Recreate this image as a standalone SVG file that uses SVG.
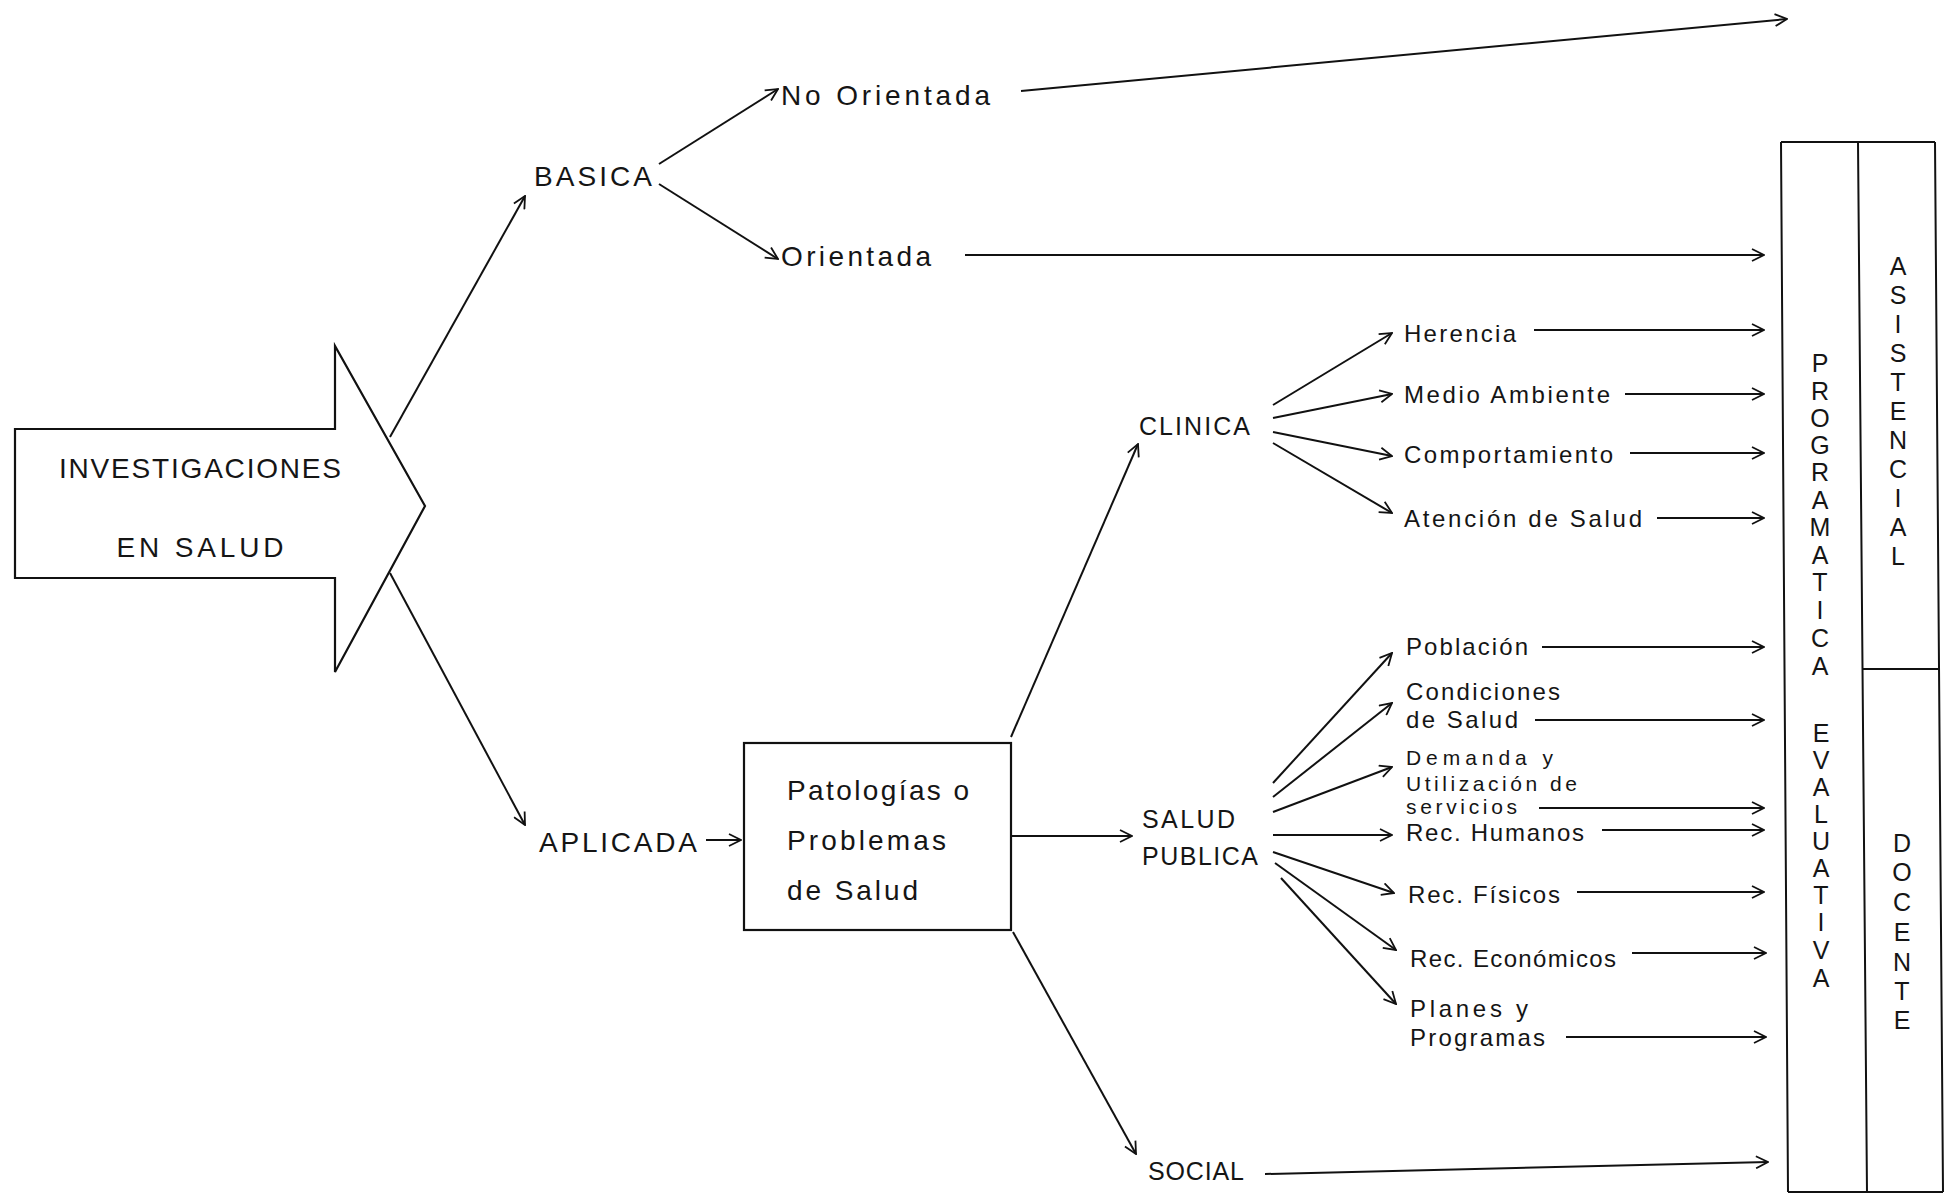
<svg xmlns="http://www.w3.org/2000/svg" width="1960" height="1195" viewBox="0 0 1960 1195">
<defs>
<marker id="ah" viewBox="0 0 14 14" refX="13" refY="7" markerWidth="14" markerHeight="14" markerUnits="userSpaceOnUse" orient="auto">
<path d="M1,1 L13,7 L1,13" fill="none" stroke="#111" stroke-width="1.8"/>
</marker>
<style>
text{font-family:"Liberation Sans",Arial,sans-serif;fill:#151515}
.l{font-size:28px}
.m{font-size:25px}
.s{font-size:24px}
.xs{font-size:21px}
.v{font-size:25px;text-anchor:middle}
.ln{stroke:#111;stroke-width:2;fill:none}
.ar{stroke:#111;stroke-width:2;fill:none;marker-end:url(#ah)}
</style>
</defs>
<rect width="1960" height="1195" fill="#fff"/>

<g id="investigaciones">
<polygon points="15,429 335,429 335,346 425,506 335,672 335,578 15,578" fill="none" stroke="#111" stroke-width="2.2"/>
<text class="l" x="200" y="478" text-anchor="middle" textLength="282" lengthAdjust="spacing">INVESTIGACIONES</text>
<text class="l" x="200" y="557" text-anchor="middle" textLength="167" lengthAdjust="spacing">EN  SALUD</text>
</g>

<g id="basica"><text class="l" x="534" y="186" textLength="118" lengthAdjust="spacing">BASICA</text></g>
<g id="no-orientada"><text class="l" x="781" y="105" textLength="209" lengthAdjust="spacing">No  Orientada</text></g>
<g id="orientada"><text class="l" x="781" y="266" textLength="150" lengthAdjust="spacing">Orientada</text></g>
<g id="aplicada"><text class="l" x="539" y="852" textLength="158" lengthAdjust="spacing">APLICADA</text></g>

<g id="patologias">
<rect x="744" y="743" width="267" height="187" fill="none" stroke="#111" stroke-width="2.2"/>
<text class="l" x="787" y="800" textLength="182" lengthAdjust="spacing">Patologías o</text>
<text class="l" x="787" y="850" textLength="159" lengthAdjust="spacing">Problemas</text>
<text class="l" x="787" y="900" textLength="131" lengthAdjust="spacing">de Salud</text>
</g>

<g id="clinica"><text class="m" x="1139" y="435" textLength="111" lengthAdjust="spacing">CLINICA</text></g>
<g id="salud-publica">
<text class="m" x="1142" y="828" textLength="93" lengthAdjust="spacing">SALUD</text>
<text class="m" x="1142" y="865" textLength="116" lengthAdjust="spacing">PUBLICA</text>
</g>
<g id="social"><text class="m" x="1148" y="1180" textLength="96" lengthAdjust="spacing">SOCIAL</text></g>

<g id="herencia"><text class="s" x="1404" y="342" textLength="112" lengthAdjust="spacing">Herencia</text></g>
<g id="medio-ambiente"><text class="s" x="1404" y="403" textLength="206" lengthAdjust="spacing">Medio Ambiente</text></g>
<g id="comportamiento"><text class="s" x="1404" y="463" textLength="209" lengthAdjust="spacing">Comportamiento</text></g>
<g id="atencion"><text class="s" x="1404" y="527" textLength="238" lengthAdjust="spacing">Atención de Salud</text></g>

<g id="poblacion"><text class="s" x="1406" y="655" textLength="122" lengthAdjust="spacing">Población</text></g>
<g id="condiciones">
<text class="s" x="1406" y="700" textLength="154" lengthAdjust="spacing">Condiciones</text>
<text class="s" x="1406" y="728" textLength="112" lengthAdjust="spacing">de Salud</text>
</g>
<g id="demanda">
<text class="xs" x="1406" y="765" textLength="147" lengthAdjust="spacing">Demanda y</text>
<text class="xs" x="1406" y="791" textLength="171" lengthAdjust="spacing">Utilización de</text>
<text class="xs" x="1406" y="814" textLength="111" lengthAdjust="spacing">servicios</text>
</g>
<g id="rec-humanos"><text class="s" x="1406" y="841" textLength="178" lengthAdjust="spacing">Rec. Humanos</text></g>
<g id="rec-fisicos"><text class="s" x="1408" y="903" textLength="152" lengthAdjust="spacing">Rec. Físicos</text></g>
<g id="rec-economicos"><text class="s" x="1410" y="967" textLength="206" lengthAdjust="spacing">Rec. Económicos</text></g>
<g id="planes">
<text class="s" x="1410" y="1017" textLength="118" lengthAdjust="spacing">Planes y</text>
<text class="s" x="1410" y="1046" textLength="135" lengthAdjust="spacing">Programas</text>
</g>

<g id="programatica-box">
<path class="ln" d="M1781,142 L1935,142 M1781,142 L1788,1192 M1858,142 L1867,1192 M1935,142 L1943,1192 M1788,1192 L1943,1192 M1862,669 L1939,669"/>
<text class="v">
<tspan x="1820" y="372">P</tspan><tspan x="1820" y="400">R</tspan><tspan x="1820" y="427">O</tspan><tspan x="1820" y="454">G</tspan><tspan x="1820" y="481">R</tspan><tspan x="1820" y="509">A</tspan><tspan x="1820" y="536">M</tspan><tspan x="1820" y="564">A</tspan><tspan x="1820" y="591">T</tspan><tspan x="1820" y="619">I</tspan><tspan x="1820" y="647">C</tspan><tspan x="1820" y="675">A</tspan>
</text>
<text class="v">
<tspan x="1821" y="742">E</tspan><tspan x="1821" y="769">V</tspan><tspan x="1821" y="796">A</tspan><tspan x="1821" y="823">L</tspan><tspan x="1821" y="850">U</tspan><tspan x="1821" y="877">A</tspan><tspan x="1821" y="904">T</tspan><tspan x="1821" y="931">I</tspan><tspan x="1821" y="959">V</tspan><tspan x="1821" y="987">A</tspan>
</text>
<text class="v">
<tspan x="1898" y="275">A</tspan><tspan x="1898" y="304">S</tspan><tspan x="1898" y="333">I</tspan><tspan x="1898" y="362">S</tspan><tspan x="1898" y="391">T</tspan><tspan x="1898" y="420">E</tspan><tspan x="1898" y="449">N</tspan><tspan x="1898" y="478">C</tspan><tspan x="1898" y="507">I</tspan><tspan x="1898" y="536">A</tspan><tspan x="1898" y="565">L</tspan>
</text>
<text class="v">
<tspan x="1902" y="852">D</tspan><tspan x="1902" y="881">O</tspan><tspan x="1902" y="911">C</tspan><tspan x="1902" y="941">E</tspan><tspan x="1902" y="971">N</tspan><tspan x="1902" y="1000">T</tspan><tspan x="1902" y="1029">E</tspan>
</text>
</g>

<g id="connectors">
<line class="ar" x1="390" y1="437" x2="525" y2="196"/>
<line class="ar" x1="390" y1="573" x2="525" y2="825"/>
<line class="ar" x1="659" y1="164" x2="778" y2="89"/>
<line class="ar" x1="659" y1="184" x2="778" y2="259"/>
<line class="ar" x1="1021" y1="91" x2="1787" y2="19"/>
<line class="ar" x1="965" y1="255" x2="1764" y2="255"/>
<line class="ar" x1="706" y1="840" x2="741" y2="840"/>
<line class="ar" x1="1011" y1="737" x2="1138" y2="444"/>
<line class="ar" x1="1012" y1="836" x2="1132" y2="836"/>
<line class="ar" x1="1013" y1="932" x2="1136" y2="1154"/>
<line class="ar" x1="1265" y1="1174" x2="1768" y2="1162"/>
<line class="ar" x1="1273" y1="405" x2="1392" y2="333"/>
<line class="ar" x1="1273" y1="418" x2="1392" y2="394"/>
<line class="ar" x1="1273" y1="432" x2="1392" y2="456"/>
<line class="ar" x1="1273" y1="443" x2="1392" y2="513"/>
<line class="ar" x1="1534" y1="330" x2="1764" y2="330"/>
<line class="ar" x1="1625" y1="394" x2="1764" y2="394"/>
<line class="ar" x1="1630" y1="453" x2="1764" y2="453"/>
<line class="ar" x1="1657" y1="518" x2="1764" y2="518"/>
<line class="ar" x1="1273" y1="783" x2="1392" y2="653"/>
<line class="ar" x1="1273" y1="797" x2="1392" y2="703"/>
<line class="ar" x1="1273" y1="812" x2="1392" y2="767"/>
<line class="ar" x1="1273" y1="835" x2="1392" y2="835"/>
<line class="ar" x1="1273" y1="852" x2="1394" y2="893"/>
<line class="ar" x1="1275" y1="863" x2="1396" y2="950"/>
<line class="ar" x1="1281" y1="878" x2="1396" y2="1004"/>
<line class="ar" x1="1542" y1="647" x2="1764" y2="647"/>
<line class="ar" x1="1535" y1="720" x2="1764" y2="720"/>
<line class="ar" x1="1539" y1="808" x2="1764" y2="808"/>
<line class="ar" x1="1602" y1="830" x2="1764" y2="830"/>
<line class="ar" x1="1577" y1="892" x2="1764" y2="892"/>
<line class="ar" x1="1632" y1="953" x2="1766" y2="953"/>
<line class="ar" x1="1566" y1="1037" x2="1766" y2="1037"/>
</g>
</svg>
